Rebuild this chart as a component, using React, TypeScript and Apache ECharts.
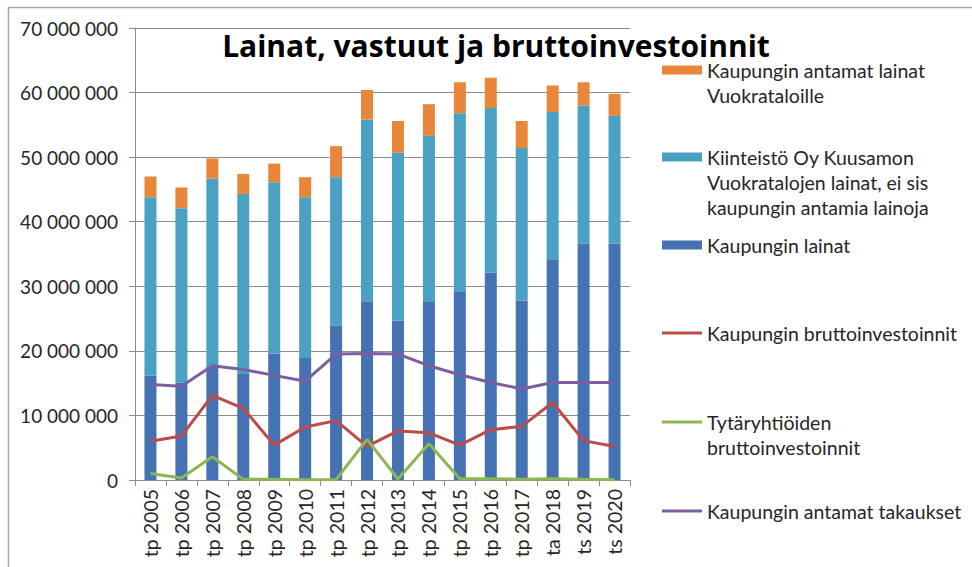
import React, { useEffect, useRef } from "react";
import * as echarts from "echarts";

const categories = [
  "tp 2005", "tp 2006", "tp 2007", "tp 2008", "tp 2009", "tp 2010", "tp 2011", "tp 2012",
  "tp 2013", "tp 2014", "tp 2015", "tp 2016", "tp 2017", "ta 2018", "ts 2019", "ts 2020",
];

// Kaupungin lainat
const kaupunginLainat = [
  16200000, 15100000, 17600000, 16400000, 19600000, 18900000, 23900000, 27700000,
  24700000, 27700000, 29100000, 32100000, 27800000, 34200000, 36600000, 36600000,
];
// Kiinteistö Oy Kuusamon Vuokratalojen lainat
const kiinteistoLainat = [
  27600000, 27000000, 29100000, 27900000, 26500000, 24900000, 23000000, 28100000,
  26000000, 25600000, 27700000, 25500000, 23600000, 22800000, 21400000, 19800000,
];
// Kaupungin antamat lainat Vuokrataloille
const antamatLainat = [
  3200000, 3200000, 3100000, 3100000, 2900000, 3100000, 4800000, 4600000,
  4900000, 4900000, 4800000, 4700000, 4200000, 4100000, 3600000, 3400000,
];
// Kaupungin bruttoinvestoinnit
const bruttoinvestoinnit = [
  6000000, 6800000, 13100000, 11100000, 5400000, 8200000, 9200000, 5200000,
  7600000, 7300000, 5400000, 7800000, 8300000, 12000000, 6100000, 5200000,
];
// Tytäryhtiöiden bruttoinvestoinnit
const tytarInvestoinnit = [
  1000000, 300000, 3600000, 100000, 100000, 50000, 50000, 6300000,
  150000, 5600000, 200000, 200000, 100000, 200000, 100000, 50000,
];
// Kaupungin antamat takaukset
const takaukset = [
  14800000, 14500000, 17700000, 17100000, 16200000, 15300000, 19500000, 19600000,
  19500000, 17700000, 16300000, 15100000, 14100000, 15100000, 15100000, 15100000,
];

const seriesNames = [
  "Kaupungin antamat lainat Vuokrataloille",
  "Kiinteistö Oy Kuusamon Vuokratalojen lainat, ei sis kaupungin antamia lainoja",
  "Kaupungin lainat",
  "Kaupungin bruttoinvestoinnit",
  "Tytäryhtiöiden bruttoinvestoinnit",
  "Kaupungin antamat takaukset",
];

const legendLines = [
  ["Kaupungin antamat lainat", "Vuokrataloille"],
  ["Kiinteistö Oy Kuusamon", "Vuokratalojen lainat, ei sis", "kaupungin antamia lainoja"],
  ["Kaupungin lainat"],
  ["Kaupungin bruttoinvestoinnit"],
  ["Tytäryhtiöiden", "bruttoinvestoinnit"],
  ["Kaupungin antamat takaukset"],
];

const titleText = "Lainat, vastuut ja bruttoinvestoinnit";

const COLORS = {
  orange: "#E8873A",
  teal: "#4AA1C1",
  blue: "#4572B2",
  red: "#BE4B48",
  green: "#8DB652",
  purple: "#7B5FA0",
};

const FONT = "Lato, 'Liberation Sans', sans-serif";
const TITLE_FONT = "'Open Sans', Lato, sans-serif";

function fmt(v: number): string {
  return String(Math.round(v)).replace(/\B(?=(\d{3})+(?!\d))/g, " ");
}

export default function App() {
  const ref = useRef<HTMLDivElement>(null);

  useEffect(() => {
    document.body.style.margin = "0";
    if (!ref.current) return;
    const chart = echarts.init(ref.current, undefined, { renderer: "svg" });

    const legendColors = [COLORS.orange, COLORS.teal, COLORS.blue, COLORS.red, COLORS.green, COLORS.purple];
    const legendY = [70, 157, 245, 333, 422, 511];
    const legendIsLine = [false, false, false, true, true, true];
    const legendGraphics: any[] = [];
    legendLines.forEach((lines, i) => {
      const cy = legendY[i];
      if (legendIsLine[i]) {
        legendGraphics.push({
          type: "rect",
          shape: { x: 662, y: cy - 1.5, width: 40, height: 3 },
          style: { fill: legendColors[i] },
        });
      } else {
        legendGraphics.push({
          type: "rect",
          shape: { x: 662, y: cy - 4.5, width: 40, height: 9 },
          style: { fill: legendColors[i] },
        });
      }
      lines.forEach((line, j) => {
        legendGraphics.push({
          type: "text",
          x: 707,
          y: cy + j * 25,
          style: {
            text: line,
            fontFamily: FONT,
            fontSize: 19.5,
            fill: "#262626",
            verticalAlign: "middle",
            align: "left",
          },
        });
      });
    });

    const option: any = {
      animation: false,
      backgroundColor: "#ffffff",
      grid: { left: 135, right: 342, top: 28, bottom: 87, containLabel: false },
      xAxis: {
        type: "category",
        data: categories,
        boundaryGap: true,
        axisLine: { show: true, lineStyle: { color: "#8c8c8c", width: 1 } },
        axisTick: { show: true, alignWithLabel: false, length: 6, lineStyle: { color: "#8c8c8c" } },
        axisLabel: {
          rotate: 90,
          interval: 0,
          margin: 9,
          fontFamily: FONT,
          fontSize: 19.5,
          color: "#262626",
        },
      },
      yAxis: {
        type: "value",
        min: 0,
        max: 70000000,
        interval: 10000000,
        axisLine: { show: true, lineStyle: { color: "#8c8c8c", width: 1 } },
        axisTick: { show: true, length: 6, lineStyle: { color: "#8c8c8c" } },
        splitLine: { show: true, lineStyle: { color: "#8c8c8c", width: 1 } },
        axisLabel: {
          margin: 17,
          fontFamily: FONT,
          fontSize: 19,
          color: "#262626",
          formatter: (v: number) => fmt(v),
        },
      },
      series: [
        {
          name: seriesNames[2],
          type: "bar",
          stack: "loans",
          data: kaupunginLainat,
          barWidth: 12,
          itemStyle: { color: COLORS.blue },
        },
        {
          name: seriesNames[1],
          type: "bar",
          stack: "loans",
          data: kiinteistoLainat,
          barWidth: 12,
          itemStyle: { color: COLORS.teal },
        },
        {
          name: seriesNames[0],
          type: "bar",
          stack: "loans",
          data: antamatLainat,
          barWidth: 12,
          itemStyle: { color: COLORS.orange },
        },
        {
          name: seriesNames[3],
          type: "line",
          data: bruttoinvestoinnit,
          symbol: "none",
          z: 5,
          lineStyle: { color: COLORS.red, width: 3 },
          itemStyle: { color: COLORS.red },
        },
        {
          name: seriesNames[4],
          type: "line",
          data: tytarInvestoinnit,
          symbol: "none",
          z: 5,
          lineStyle: { color: COLORS.green, width: 3 },
          itemStyle: { color: COLORS.green },
        },
        {
          name: seriesNames[5],
          type: "line",
          data: takaukset,
          symbol: "none",
          z: 5,
          lineStyle: { color: COLORS.purple, width: 3 },
          itemStyle: { color: COLORS.purple },
        },
      ],
      graphic: [
        {
          type: "line",
          shape: { x1: 8, y1: 7.5, x2: 972, y2: 7.5 },
          style: { stroke: "#a6a6a6", lineWidth: 1.5 },
        },
        {
          type: "line",
          shape: { x1: 8.5, y1: 7, x2: 8.5, y2: 567 },
          style: { stroke: "#a6a6a6", lineWidth: 1.5 },
        },
        {
          type: "text",
          x: 496,
          y: 45,
          z: 10,
          style: {
            text: titleText,
            fontFamily: TITLE_FONT,
            fontSize: 30,
            fontWeight: "bold",
            fill: "#000000",
            align: "center",
            verticalAlign: "middle",
          },
        },
        ...legendGraphics,
      ],
    };

    chart.setOption(option);
    return () => chart.dispose();
  }, []);

  return <div ref={ref} style={{ width: 972, height: 567 }} />;
}
